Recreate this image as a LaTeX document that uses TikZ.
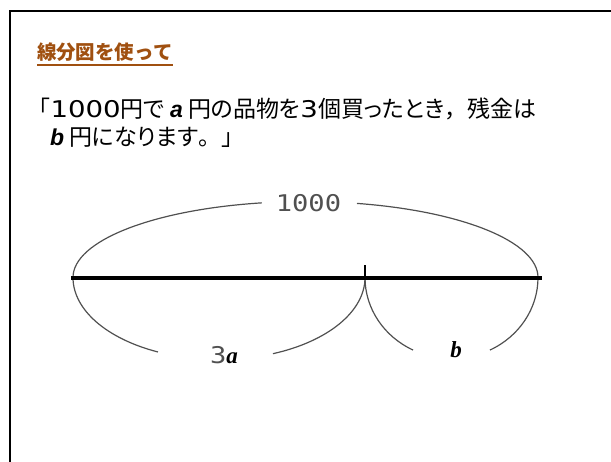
\documentclass[tikz,border=0pt]{standalone}
\usepackage{fontspec}
\setmainfont{Noto Sans CJK JP}
\newfontfamily\jp{Noto Sans CJK JP}
\newfontfamily\jpp[RawFeature=+palt]{Noto Sans CJK JP}
\newfontfamily\digs[FakeStretch=1.2]{DejaVu Sans}
\newfontfamily\lsans{Liberation Sans}
\newfontfamily\lserif{Liberation Serif}
\newfontfamily\monod[FakeStretch=1.18]{DejaVu Sans Mono}
\definecolor{titlebrown}{RGB}{160,80,16}
\definecolor{arcgray}{RGB}{80,80,80}
\tikzset{
  txt/.style={anchor=base west, inner sep=0pt, outer sep=0pt},
  lbl/.style={anchor=center, inner sep=0pt, outer sep=0pt},
  arcline/.style={draw=arcgray, line width=1.2pt},
  frame/.style={line width=2.5pt, line cap=rect}
}
\begin{document}
\begin{tikzpicture}[x=1pt,y=1pt]
\useasboundingbox (0,0) rectangle (611,-461);
% frame
\coordinate (f1) at (612,-11);
\coordinate (f2) at (10,-11);
\coordinate (f3) at (10,-462);
\draw[frame] (f1) -- (f2) -- (f3);
% title
\node[txt, text=titlebrown, font=\jp\bfseries\fontsize{19.5}{22}\selectfont] (title) at (37,-59) {線分図を使って};
\draw[titlebrown, line width=1.2pt] ([yshift=-6pt]title.base west) -- ([yshift=-6pt]title.base east);
% sentence
\node[txt, font=\jpp\fontsize{23}{27}\selectfont] (l1) at (39,-117)
  {「{\digs 1000}円で {\lsans\bfseries\itshape a} 円の品物を{\digs 3}個買ったとき{\jp，}残金は};
\node[txt, font=\jpp\fontsize{23}{27}\selectfont] (l2) at (50,-145)
  {{\lsans\bfseries\itshape b} 円になります{\jp 。」}};
% line diagram
\coordinate (L) at (73,-277.5);
\coordinate (Lend) at (71,-277.5);
\coordinate (M) at (365,-277.5);
\coordinate (T) at (365,-265);
\coordinate (R) at (538,-277.5);
\coordinate (Rend) at (542,-277.5);
% top brace arc
\draw[arcline] (L) arc[start angle=180, end angle=100.8, x radius=232.5pt, y radius=76pt];
\draw[arcline] (R) arc[start angle=0, end angle=77.2, x radius=232.5pt, y radius=76pt];
% bottom left arc
\draw[arcline] (L) arc[start angle=180, end angle=245.3, x radius=146pt, y radius=82pt];
\draw[arcline] (M) arc[start angle=360, end angle=291.7, x radius=146pt, y radius=82pt];
% bottom right arc
\draw[arcline] (M) arc[start angle=180, end angle=243.6, x radius=86.5pt, y radius=81pt];
\draw[arcline] (R) arc[start angle=360, end angle=296.4, x radius=86.5pt, y radius=81pt];
% main line and tick
\draw[line width=4pt] (Lend) -- (Rend);
\draw[line width=1.4pt] (T) -- (M);
% labels
\node[lbl, text=arcgray, font=\monod\fontsize{23}{26}\selectfont] (n1000) at (308.5,-203.5) {1000};
\node[lbl, font=\fontsize{23}{26}\selectfont] (n3a) at (224,-355) {{\monod\color{arcgray}3}{\lserif\bfseries\itshape a}};
\node[lbl, font=\lserif\bfseries\itshape\fontsize{23}{26}\selectfont] (nb) at (456,-350) {b};
\end{tikzpicture}
\end{document}
